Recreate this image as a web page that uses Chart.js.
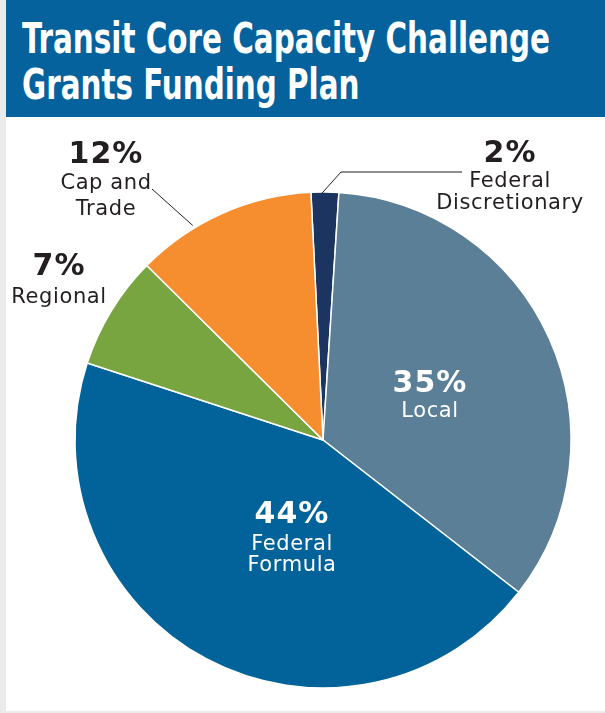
<!DOCTYPE html>
<html><head><meta charset="utf-8">
<script src="https://cdn.jsdelivr.net/npm/chart.js@4.4.1/dist/chart.umd.min.js"></script>
<style>
html,body{margin:0;padding:0;background:#ebebeb;width:605px;height:713px;overflow:hidden;}
#panel{position:absolute;left:6px;top:0;width:599px;height:711px;background:#fff;}
#banner{position:absolute;left:0;top:0;width:599px;height:117px;background:#05629d;overflow:hidden;}
#banner h1{margin:0;position:absolute;left:16px;top:15px;color:#fff;font-family:"DejaVu Sans Condensed","DejaVu Sans",sans-serif;font-weight:bold;font-size:43px;line-height:46px;white-space:nowrap;transform-origin:0 0;}
#banner h1 span{display:inline-block;}
#wrap{position:absolute;left:0;top:117px;width:599px;height:594px;}
</style></head>
<body>
<div id="panel">
  <div id="banner"><h1 id="ttl"><span id="l1">Transit Core Capacity Challenge</span><br><span>Grants Funding Plan</span></h1></div>
  <div id="wrap"><canvas id="c"></canvas></div>
</div>
<script>
const categories = ["Federal Discretionary", "Local", "Federal Formula", "Regional", "Cap and Trade"];
const shares = [1.8, 34.5, 44.5, 7.4, 11.8];
const percentLabels = ["2%", "35%", "44%", "7%", "12%"];
const nameLines = [["Federal", "Discretionary"], ["Local"], ["Federal", "Formula"], ["Regional"], ["Cap and", "Trade"]];
const colors = ["#1b3560", "#5b7f96", "#02639a", "#78a540", "#f68d2e"];

// fit condensed title to reference width
(function(){
  const w = document.getElementById('l1').getBoundingClientRect().width;
  document.getElementById('ttl').style.transform = 'scaleX(' + (528 / w) + ')';
})();

// label layout relative to pie centre (x, baseline of percent, baselines of name lines), colour
const labelLayout = [
  {dx: 187, py: -278, ly: [-253, -231], color: "#231f20"},
  {dx: 107, py: -48, ly: [-23], color: "#ffffff"},
  {dx: -31, py: 83, ly: [110, 131], color: "#ffffff"},
  {dx: -264, py: -165, ly: [-137], color: "#231f20"},
  {dx: -217, py: -277, ly: [-251, -225], color: "#231f20"}
];
// leader lines: anchor on arc at fraction of slice, radial offset, then relative points
const leaders = [
  {index: 0, frac: 0.4, dr: -1, pts: [[18, -268], [139, -268]]},
  {index: 4, frac: 0.33, dr: 3, pts: [[-171, -251]]}
];

const labelPlugin = {
  id: 'sliceLabels',
  afterDatasetsDraw(chart) {
    const ctx = chart.ctx;
    const meta = chart.getDatasetMeta(0);
    const a0 = meta.data[0];
    const cx = a0.x, cy = a0.y;
    ctx.save();
    ctx.strokeStyle = "#231f20";
    ctx.lineWidth = 1;
    leaders.forEach(l => {
      const arc = meta.data[l.index];
      const ang = arc.startAngle + (arc.endAngle - arc.startAngle) * l.frac;
      const r = arc.outerRadius + l.dr;
      ctx.beginPath();
      ctx.moveTo(cx + r * Math.cos(ang), cy + r * Math.sin(ang));
      l.pts.forEach(p => ctx.lineTo(cx + p[0], cy + p[1]));
      ctx.stroke();
    });
    ctx.textAlign = "center";
    ctx.textBaseline = "alphabetic";
    labelLayout.forEach((lay, i) => {
      ctx.fillStyle = lay.color;
      ctx.letterSpacing = "1px";
      ctx.font = "bold 30px 'DejaVu Sans'";
      ctx.fillText(percentLabels[i], cx + lay.dx, cy + lay.py);
      ctx.letterSpacing = "0.6px";
      ctx.font = "21px 'DejaVu Sans'";
      nameLines[i].forEach((t, k) => ctx.fillText(t, cx + lay.dx, cy + lay.ly[k]));
    });
    ctx.restore();
  }
};

new Chart(document.getElementById('c'), {
  type: 'pie',
  data: {
    labels: categories,
    datasets: [{
      data: shares,
      backgroundColor: colors,
      borderColor: "#ffffff",
      borderWidth: 1.5,
      hoverOffset: 0
    }]
  },
  options: {
    responsive: true,
    maintainAspectRatio: false,
    animation: false,
    rotation: -2.8,
    radius: 248,
    layout: {padding: {left: 69, right: 34, top: 75, bottom: 23}},
    plugins: {legend: {display: false}, tooltip: {enabled: false}, title: {display: false}}
  },
  plugins: [labelPlugin]
});
</script>
</body></html>
